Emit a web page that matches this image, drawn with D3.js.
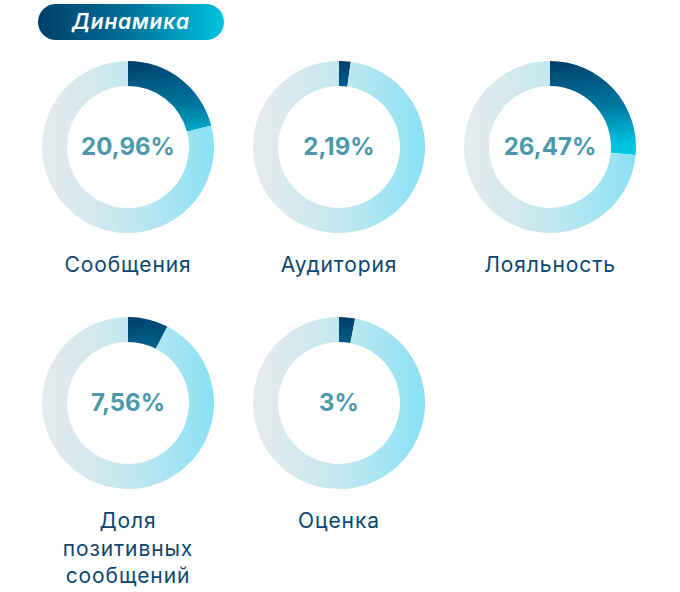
<!DOCTYPE html>
<html lang="ru">
  <head>
    <meta charset="UTF-8" />
    <title>Динамика</title>
    <script src="https://d3js.org/d3.v7.min.js" charset="utf-8"></script>
    <style>
      body { margin: 0; background: #fff; }
    </style>
  </head>
  <body>
    <div id="chart"></div>
    <script>
      const title = "Динамика";
      const categories = ["Сообщения", "Аудитория", "Лояльность", "Доля позитивных сообщений", "Оценка"];
      const values = [20.96, 2.19, 26.47, 7.56, 3];
      const valueLabels = ["20,96%", "2,19%", "26,47%", "7,56%", "3%"];
      const labelLines = [["Сообщения"], ["Аудитория"], ["Лояльность"], ["Доля", "позитивных", "сообщений"], ["Оценка"]];

      const width = 680;
      const height = 592;
      const outerR = 86;
      const innerR = 61;
      const font = "Inter, 'Noto Sans', sans-serif";
      const colX = d3.scalePoint().domain([0, 1, 2]).range([128, 550]);
      const rowY = d3.scalePoint().domain([0, 1]).range([147, 403]);

      const svg = d3.select("#chart").append("svg")
        .attr("width", width)
        .attr("height", height);

      const defs = svg.append("defs");

      const pill = defs.append("linearGradient").attr("id", "pill")
        .attr("x1", 0).attr("x2", 1).attr("y1", 0).attr("y2", 0);
      pill.append("stop").attr("offset", "0%").attr("stop-color", "#003f6b");
      pill.append("stop").attr("offset", "45%").attr("stop-color", "#006c95");
      pill.append("stop").attr("offset", "100%").attr("stop-color", "#00c3de");

      // segment gradient: dark at the top of the ring, cyan toward the centre
      const dark = defs.append("linearGradient").attr("id", "dark")
        .attr("gradientUnits", "userSpaceOnUse")
        .attr("x1", 0).attr("y1", -outerR)
        .attr("x2", 10).attr("y2", 5);
      dark.append("stop").attr("offset", "0%").attr("stop-color", "#003f6b");
      dark.append("stop").attr("offset", "55%").attr("stop-color", "#00779f");
      dark.append("stop").attr("offset", "100%").attr("stop-color", "#00c4e0");

      // rest of the ring: grey on the left to light cyan on the right
      const light = defs.append("linearGradient").attr("id", "light")
        .attr("gradientUnits", "userSpaceOnUse")
        .attr("x1", -outerR).attr("y1", 0)
        .attr("x2", outerR).attr("y2", 0);
      light.append("stop").attr("offset", "0%").attr("stop-color", "#e7eaec");
      light.append("stop").attr("offset", "50%").attr("stop-color", "#c4e8f0");
      light.append("stop").attr("offset", "100%").attr("stop-color", "#88e0f4");

      // header pill
      const head = svg.append("g");
      head.append("rect")
        .attr("x", 38).attr("y", 4)
        .attr("width", 186).attr("height", 36)
        .attr("rx", 18)
        .attr("fill", "url(#pill)");
      head.append("text")
        .attr("x", 131).attr("y", 29)
        .attr("text-anchor", "middle")
        .attr("fill", "#fff")
        .style("font-family", font)
        .style("font-size", "21px")
        .style("font-style", "italic")
        .style("font-weight", 600)
        .style("letter-spacing", "0.8px")
        .text(title);

      const pie = d3.pie().sort(null).value(d => d);
      const arc = d3.arc().innerRadius(innerR).outerRadius(outerR);

      const g = svg.selectAll("g.donut")
        .data(values)
        .enter()
        .append("g")
        .attr("class", "donut")
        .attr("transform", (d, i) => `translate(${colX(i % 3)},${rowY(Math.floor(i / 3))})`);

      g.selectAll("path")
        .data(v => pie([v, 100 - v]))
        .enter()
        .append("path")
        .attr("d", arc)
        .attr("fill", (d, j) => j === 0 ? "url(#dark)" : "url(#light)");

      g.append("text")
        .attr("text-anchor", "middle")
        .attr("dy", "0.35em")
        .attr("fill", "#4b98ab")
        .style("font-family", font)
        .style("font-size", "24px")
        .style("font-weight", 700)
        .text((d, i) => valueLabels[i]);

      const labels = g.append("text")
        .attr("text-anchor", "middle")
        .attr("fill", "#0c4670")
        .style("font-family", font)
        .style("font-size", "21px")
        .style("font-weight", 400)
        .style("letter-spacing", "0.9px");

      labels.selectAll("tspan")
        .data((d, i) => labelLines[i])
        .enter()
        .append("tspan")
        .attr("x", 0)
        .attr("y", (d, j) => 125 + j * 27.5)
        .text(d => d);
    </script>
  </body>
</html>
